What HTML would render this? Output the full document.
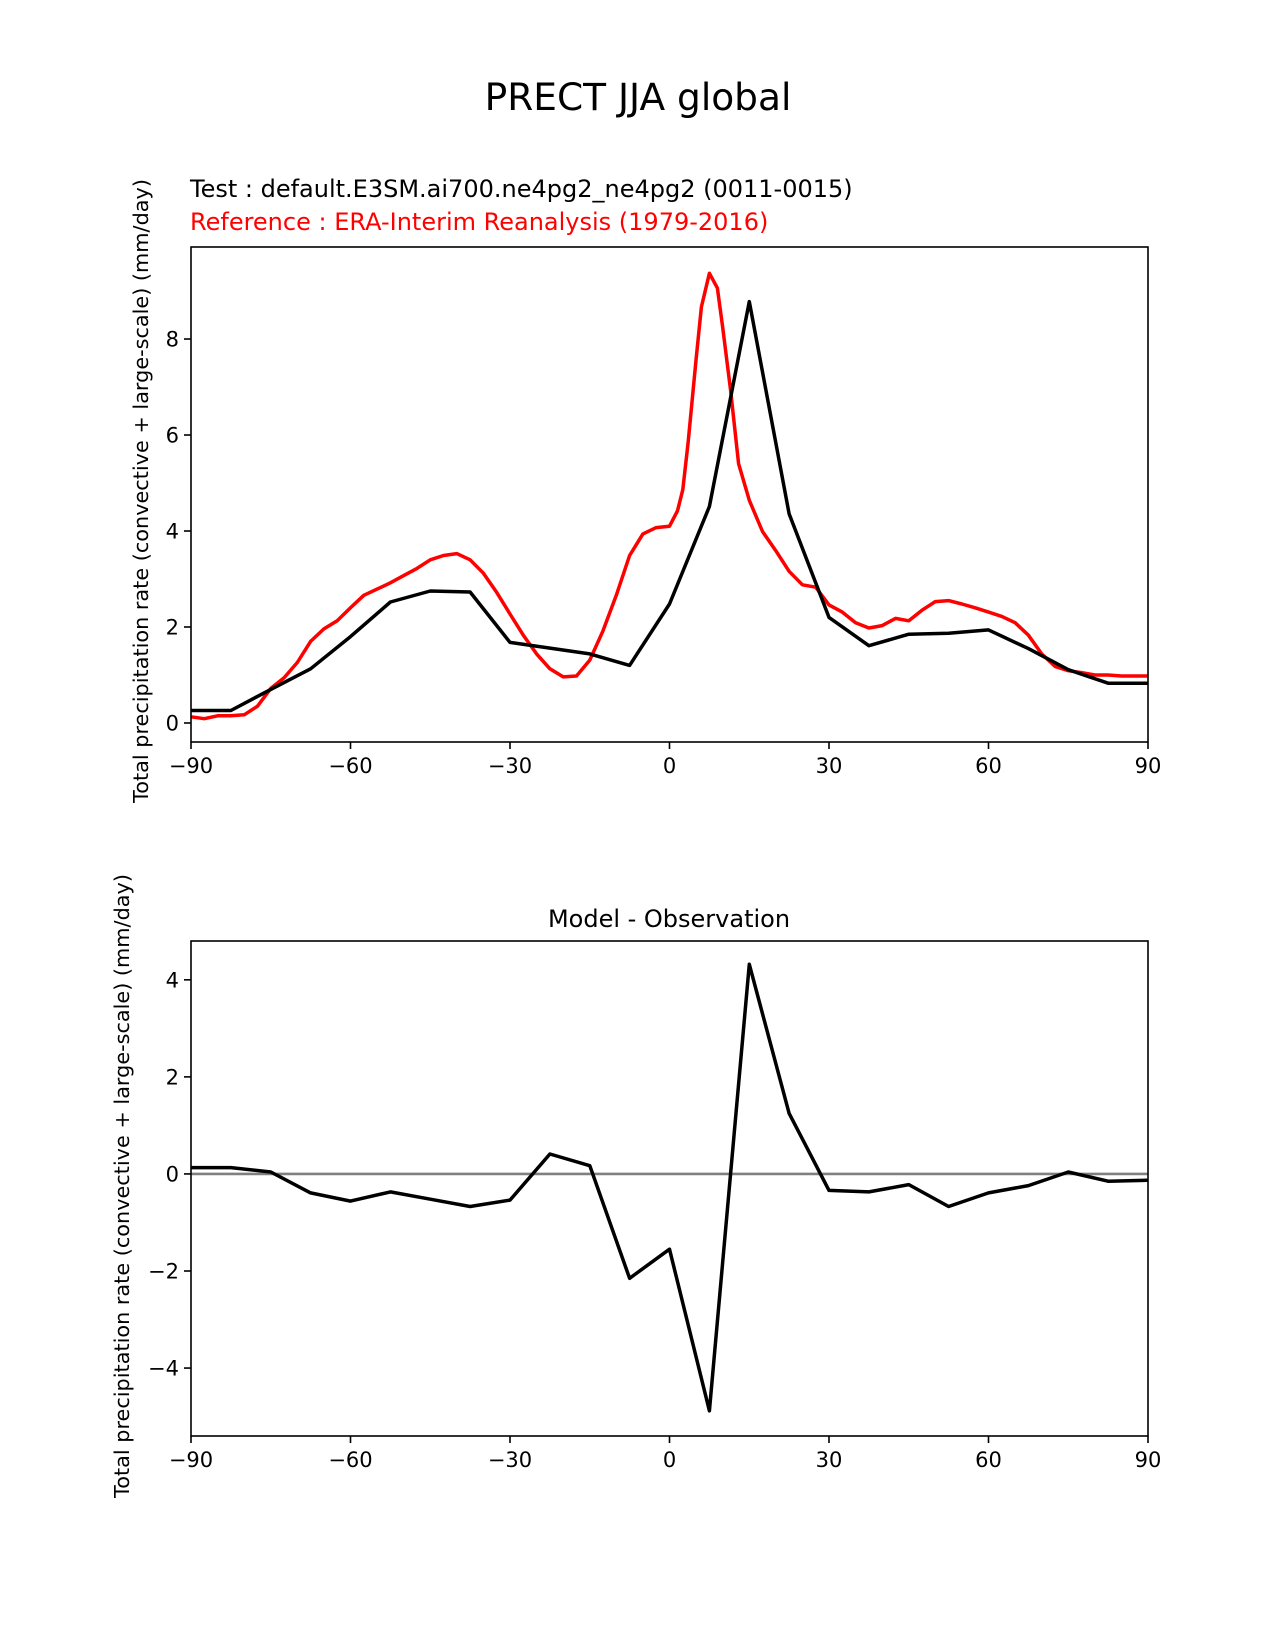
<!DOCTYPE html>
<html><head><meta charset="utf-8"><style>
body{margin:0;background:#fff}
svg{display:block}
text{font-family:"DejaVu Sans","Liberation Sans",sans-serif}
</style></head><body>
<svg id="fig" width="1275" height="1650" xmlns="http://www.w3.org/2000/svg">
<rect width="1275" height="1650" fill="#fff"/>
<text x="638" y="110" font-size="37.5" text-anchor="middle">PRECT JJA global</text>
<text x="190" y="197" font-size="24">Test : default.E3SM.ai700.ne4pg2_ne4pg2 (0011-0015)</text>
<text x="190" y="230" font-size="24" fill="#ff0000">Reference : ERA-Interim Reanalysis (1979-2016)</text>
<text x="669" y="927" font-size="24" text-anchor="middle">Model - Observation</text>
<text transform="translate(148,491) rotate(-90)" font-size="20.8" text-anchor="middle">Total precipitation rate (convective + large-scale) (mm/day)</text>
<text transform="translate(129,1186) rotate(-90)" font-size="20.8" text-anchor="middle">Total precipitation rate (convective + large-scale) (mm/day)</text>
<g id="top"></g>
<g id="bot"></g>
</svg>
<script>
const lats = [-90,-82.5,-75,-67.5,-60,-52.5,-45,-37.5,-30,-22.5,-15,-7.5,0,7.5,15,22.5,30,37.5,45,52.5,60,67.5,75,82.5,90];
const testVals = [0.26,0.26,0.7,1.13,1.8,2.52,2.75,2.73,1.68,1.56,1.44,1.2,2.48,4.51,8.78,4.36,2.2,1.61,1.85,1.87,1.94,1.55,1.11,0.83,0.83];
const diffVals = [0.13,0.13,0.04,-0.39,-0.56,-0.37,-0.52,-0.67,-0.54,0.41,0.17,-2.15,-1.55,-4.88,4.32,1.25,-0.34,-0.37,-0.22,-0.67,-0.39,-0.24,0.04,-0.15,-0.13];
const refLats = [-90,-87.5,-85,-82.5,-80,-77.5,-75,-72.5,-70,-67.5,-65,-62.5,-60,-57.5,-55,-52.5,-50,-47.5,-45,-42.5,-40,-37.5,-35,-32.5,-30,-27.5,-25,-22.5,-20,-17.5,-15,-12.5,-10,-7.5,-5,-2.5,0,1.5,2.5,3.5,5,6,7.5,9,10,11.5,13,15,17.5,20,22.5,25,27.5,30,32.5,35,37.5,40,42.5,45,47.5,50,52.5,55,57.5,60,62.5,65,67.5,70,72.5,75,77.5,80,82.5,85,87.5,90];
const refVals = [0.13,0.09,0.15,0.15,0.17,0.35,0.72,0.94,1.26,1.7,1.96,2.13,2.4,2.66,2.79,2.92,3.07,3.22,3.4,3.49,3.53,3.4,3.12,2.72,2.27,1.83,1.44,1.13,0.96,0.98,1.31,1.92,2.66,3.49,3.94,4.07,4.1,4.42,4.86,5.84,7.58,8.67,9.37,9.06,8.24,6.93,5.4,4.64,3.99,3.59,3.16,2.88,2.83,2.46,2.31,2.09,1.98,2.03,2.18,2.13,2.35,2.53,2.55,2.48,2.4,2.31,2.22,2.09,1.83,1.44,1.18,1.09,1.05,1.0,1.0,0.98,0.98,0.98];
const xTicks = [-90,-60,-30,0,30,60,90];
const topYTicks = [0,2,4,6,8];
const botYTicks = [-4,-2,0,2,4];

const NS='http://www.w3.org/2000/svg';
const X0=191,X1=1148;
function xs(v){return X0+(v+90)/180*(X1-X0);}
function mk(tag,attrs,parent){const e=document.createElementNS(NS,tag);for(const k in attrs)e.setAttribute(k,attrs[k]);parent.appendChild(e);return e;}

function axes(g,top,bottom,ymin,ymax,yticks){
  const ys=v=>bottom-(v-ymin)/(ymax-ymin)*(bottom-top);
  xTicks.forEach(t=>{
    const l=mk('line',{x1:xs(t),x2:xs(t),y1:bottom,y2:bottom+7,stroke:'#000','stroke-width':1.6},g);
    
    
    const tx=mk('text',{x:xs(t),y:bottom+31,'font-size':21,'text-anchor':'middle'},g);
    tx.textContent=(t<0?'\u2212'+(-t):''+t);
    
    
  });
  yticks.forEach(t=>{
    const y=ys(t);
    const l=mk('line',{x1:X0-7,x2:X0,y1:y,y2:y,stroke:'#000','stroke-width':1.6},g);
    
    
    const tx=mk('text',{x:X0-12,y:y+7.5,'font-size':21,'text-anchor':'end'},g);
    tx.textContent=(t<0?'\u2212'+(-t):''+t);
    
    
  });
  return ys;
}
function line(g,xv,yv,ys,color,w,name){
  const d=xv.map((v,i)=>(i?'L':'M')+xs(v).toFixed(1)+','+ys(yv[i]).toFixed(1)).join('');
  const p=mk('path',{d:d,fill:'none',stroke:color,'stroke-width':w,'stroke-linejoin':'round'},g);
  
  
}
function frame(g,top,bottom){
  const r=mk('rect',{x:X0,y:top,width:X1-X0,height:bottom-top,fill:'none',stroke:'#000','stroke-width':1.6},g);
  
  
}

const gt=document.getElementById('top');
const ysT=axes(gt,247,742,-0.396,9.917,topYTicks);
line(gt,refLats,refVals,ysT,'#ff0000',3.5,'reference-line');
line(gt,lats,testVals,ysT,'#000',3.5,'test-line');
frame(gt,247,742);

const gb=document.getElementById('bot');
const ysB=axes(gb,941,1436,-5.4,4.8,botYTicks);
line(gb,[-90,90],[0,0],ysB,'#808080',2.6,'zero-line');
line(gb,lats,diffVals,ysB,'#000',3.5,'difference-line');
frame(gb,941,1436);
</script>
</body></html>
